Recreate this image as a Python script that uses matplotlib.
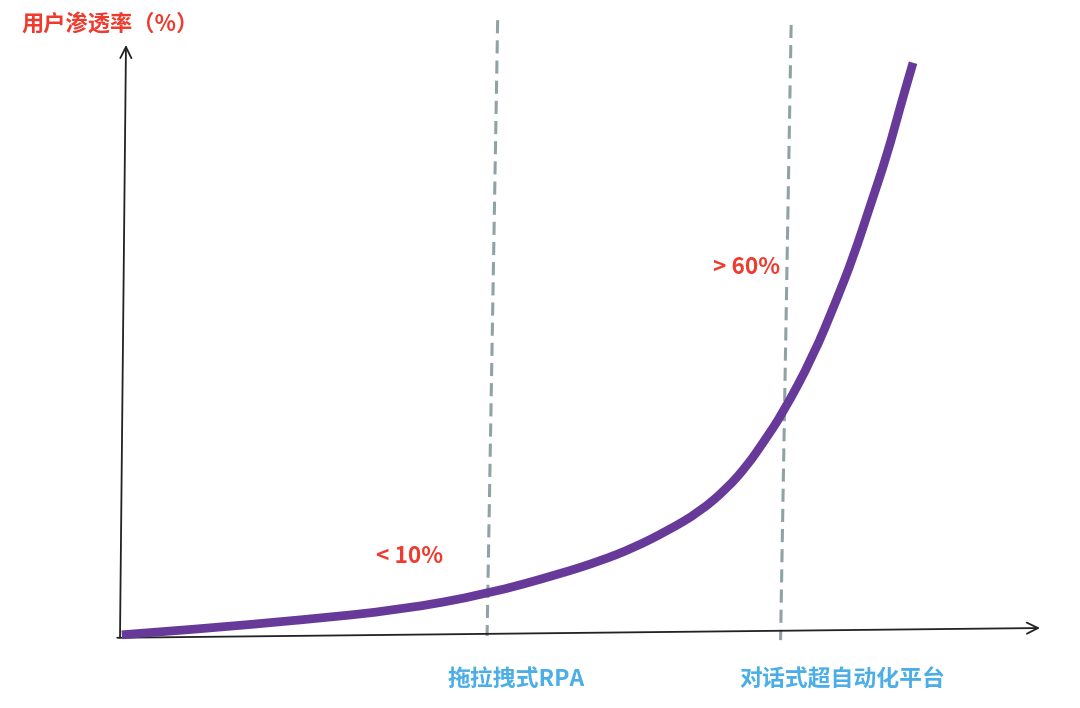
import numpy as np
import matplotlib
matplotlib.use('Agg')
import matplotlib.pyplot as plt
from matplotlib.path import Path
from matplotlib.patches import PathPatch

plt.rcParams['font.family'] = ['Noto Sans CJK SC', 'DejaVu Sans']

# 曲线读数（横轴阶段 0-100，纵轴渗透率 0-100）
curve_x = [0.2, 8.7, 19.6, 30.4, 39.9, 47.8, 52.2, 55.8, 59.5, 63.0, 66.0, 68.2,
           69.9, 72.0, 75.3, 77.9, 79.7, 81.5, 83.4, 84.8, 86.2]
curve_y = [0.2, 1.2, 2.7, 4.4, 7.1, 10.5, 12.7, 14.9, 17.8, 21.0, 25.0, 28.9,
           32.7, 37.6, 47.2, 56.9, 64.1, 72.6, 81.5, 89.5, 97.0]

stage_x = [40.5, 72.4]  # 两条虚线位置
stage_labels = ['拖拉拽式RPA', '对话式超自动化平台']
stage_label_x = [43.1, 78.5]

note_labels = ['< 10%', '> 60%']
note_x = [31.5, 68.1]
note_y = [13.5, 62.3]

y_title = '用户渗透率（%）'

red = '#EE3B2E'
blue = '#4BAEE6'
purple = '#673A99'
grey = '#8FA2A4'

fig = plt.figure(figsize=(10.8, 7.08), dpi=100)
ax = fig.add_axes([120 / 1080, 72 / 708, 920 / 1080, 591 / 708])
ax.set_xlim(0, 100)
ax.set_ylim(0, 100)
ax.axis('off')

# 坐标轴箭头（原图略有倾斜）
ax.annotate('', xy=(100, 1.35), xytext=(-0.3, -0.3),
            arrowprops=dict(arrowstyle='->', color='#222222', lw=1.3,
                            mutation_scale=20, shrinkA=0, shrinkB=0),
            annotation_clip=False)
ax.annotate('', xy=(0.65, 100), xytext=(0, -0.3),
            arrowprops=dict(arrowstyle='->', color='#222222', lw=1.3,
                            mutation_scale=20, shrinkA=0, shrinkB=0),
            annotation_clip=False)

# 阶段虚线
for sx, top, bot in zip(stage_x, [104.2, 103.4], [0, -0.7]):
    ax.plot([sx + 0.55, sx - 0.6], [top, bot], color=grey, lw=2.2,
            dashes=(4.3, 2.3), clip_on=False, zorder=1)

# 用二次贝塞尔把读数点连成平滑曲线
pts = np.column_stack([curve_x, curve_y])
verts = [pts[0]]
codes = [Path.MOVETO]
for i in range(1, len(pts) - 1):
    verts += [pts[i], (pts[i] + pts[i + 1]) / 2]
    codes += [Path.CURVE3, Path.CURVE3]
verts.append(pts[-1])
codes.append(Path.LINETO)
ax.add_patch(PathPatch(Path(verts, codes), fill=False, edgecolor=purple,
                       lw=6.3, capstyle='butt', joinstyle='round',
                       zorder=3, clip_on=False))

for lab, lx in zip(stage_labels, stage_label_x):
    ax.text(lx, -7.4, lab, color=blue, fontsize=16.5, fontweight='bold',
            ha='center', va='center', clip_on=False)

for lab, nx, ny in zip(note_labels, note_x, note_y):
    ax.text(nx, ny, lab, color=red, fontsize=16.3, fontweight='bold',
            ha='center', va='center')

ax.text(-1.1, 103.4, y_title, color=red, fontsize=16, fontweight='bold',
        ha='center', va='center', clip_on=False)

fig.savefig('out.png', dpi=100, facecolor='white')
